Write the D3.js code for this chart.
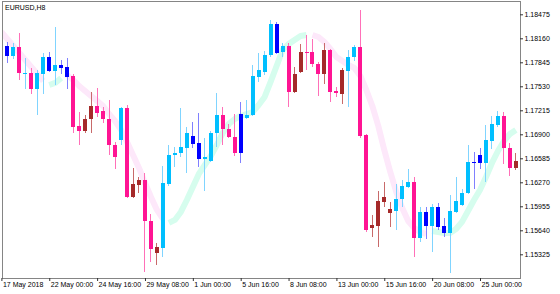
<!DOCTYPE html>
<html>
<head>
<meta charset="utf-8">
<script src="https://cdn.jsdelivr.net/npm/d3@7"></script>
<style>
  body { margin: 0; background: #fff; }
  svg { display: block; font-family: 'Liberation Sans', Arial, sans-serif; }
</style>
</head>
<body>
<div id="chart"></div>
<script>
const symbol = 'EURUSD,H8';

// OHLC of the 87 H8 bars, 17 May 08:00 .. 26 Jun 2018
const opens = [
  1.18190, 1.18059, 1.17928, 1.18046, 1.17691, 1.17705, 1.17495, 1.17691, 1.17915, 1.17731,
  1.17810, 1.17784, 1.17665, 1.17009, 1.16944, 1.17101, 1.17272, 1.17206, 1.17101, 1.16760,
  1.16826, 1.17246, 1.16077, 1.16235, 1.16301, 1.15763, 1.15343, 1.15408, 1.16248, 1.16628,
  1.16655, 1.16721, 1.16878, 1.16787, 1.16576, 1.16550, 1.16918, 1.17153, 1.16970, 1.16865,
  1.16655, 1.17114, 1.17153, 1.17652, 1.17718, 1.17941, 1.18348, 1.17981, 1.18059, 1.17456,
  1.17718, 1.17981, 1.17981, 1.17823, 1.17691, 1.18007, 1.17469, 1.17429, 1.17731, 1.17915,
  1.18046, 1.16891, 1.15671, 1.15697, 1.16012, 1.15868, 1.15894, 1.16051, 1.16209, 1.16275,
  1.15539, 1.15881, 1.15697, 1.15946, 1.15697, 1.15605, 1.15881, 1.15972, 1.16130, 1.16537,
  1.16628, 1.16524, 1.16813, 1.17022, 1.17140, 1.16721, 1.16458
];
const highs = [
  1.18203, 1.18112, 1.18099, 1.18230, 1.17902, 1.17771, 1.17744, 1.17968, 1.17981, 1.18309,
  1.17876, 1.17902, 1.17691, 1.17193, 1.17153, 1.17456, 1.17508, 1.17259, 1.17351, 1.16800,
  1.17259, 1.17285, 1.16458, 1.16340, 1.16393, 1.15854, 1.15474, 1.16484, 1.16760, 1.16734,
  1.17246, 1.16996, 1.17062, 1.17180, 1.16852, 1.16944, 1.17443, 1.17259, 1.17035, 1.17166,
  1.17325, 1.17351, 1.17810, 1.17968, 1.17994, 1.18401, 1.18375, 1.18099, 1.18099, 1.17784,
  1.18085, 1.18203, 1.18151, 1.17850, 1.18099, 1.18020, 1.17521, 1.17771, 1.18007, 1.18072,
  1.18532, 1.16904, 1.15841, 1.16156, 1.16275, 1.16012, 1.16248, 1.16301, 1.16445, 1.16340,
  1.15946, 1.15946, 1.15985, 1.15999, 1.15802, 1.16103, 1.16340, 1.16183, 1.16760, 1.16668,
  1.16721, 1.17022, 1.17140, 1.17206, 1.17193, 1.16787, 1.16655
];
const lows = [
  1.18033, 1.17837, 1.17889, 1.17613, 1.17495, 1.17429, 1.17153, 1.17429, 1.17718, 1.17547,
  1.17691, 1.17495, 1.16918, 1.16760, 1.16918, 1.16918, 1.17127, 1.17049, 1.16628, 1.16445,
  1.16760, 1.16064, 1.16064, 1.16130, 1.15093, 1.15225, 1.15185, 1.15290, 1.16222, 1.16471,
  1.16602, 1.16393, 1.16721, 1.16471, 1.16156, 1.16537, 1.16734, 1.16760, 1.16852, 1.16615,
  1.16524, 1.17101, 1.17140, 1.17587, 1.17678, 1.17915, 1.17954, 1.17915, 1.17259, 1.17443,
  1.17705, 1.17744, 1.17784, 1.17403, 1.17560, 1.17325, 1.17390, 1.17298, 1.17259, 1.17863,
  1.16852, 1.15618, 1.15552, 1.15421, 1.15946, 1.15684, 1.15644, 1.15946, 1.16196, 1.15290,
  1.15487, 1.15526, 1.15356, 1.15644, 1.15552, 1.15080, 1.15868, 1.15959, 1.16116, 1.16183,
  1.16445, 1.16275, 1.16708, 1.16996, 1.16510, 1.16353, 1.16432
];
const closes = [
  1.18046, 1.17928, 1.18046, 1.17705, 1.17705, 1.17495, 1.17705, 1.17915, 1.17731, 1.17810,
  1.17771, 1.17652, 1.16996, 1.16944, 1.17101, 1.17272, 1.17180, 1.17101, 1.16760, 1.16602,
  1.17246, 1.16077, 1.16248, 1.16301, 1.15763, 1.15395, 1.15421, 1.16262, 1.16628, 1.16655,
  1.16734, 1.16918, 1.16773, 1.16576, 1.16602, 1.16918, 1.17153, 1.16970, 1.16865, 1.16655,
  1.17166, 1.17153, 1.17665, 1.17744, 1.17941, 1.18348, 1.17968, 1.18059, 1.17456, 1.17691,
  1.17981, 1.17968, 1.17823, 1.17691, 1.18007, 1.17456, 1.17443, 1.17744, 1.17915, 1.18046,
  1.16878, 1.15644, 1.15710, 1.16025, 1.16077, 1.15920, 1.16051, 1.16222, 1.16275, 1.15539,
  1.15881, 1.15697, 1.15946, 1.15684, 1.15605, 1.15894, 1.16025, 1.16130, 1.16537, 1.16524,
  1.16524, 1.16826, 1.17035, 1.17140, 1.16721, 1.16458, 1.16550
];
// candle colour class: c = up/bull, b = up/bear, p = down/bear, r = down/bull
const kinds = ('pbcpcpccbc' + 'bbpprrpppp' + 'cprrpprccc' + 'ccbbcccppp' + 'bcccccbcpr' +
               'rppprpprcc' + 'pprrrrcccp' + 'cbcbbccccb' + 'bcccppr').split('');

// trend line indicator and its direction (U up, D down)
const band = [
  1.18243, 1.18151, 1.18059, 1.17968, 1.17876, 1.17784, 1.17691, 1.17600, 1.17547, 1.17574,
  1.17639, 1.17678, 1.17613, 1.17534, 1.17469, 1.17403, 1.17338, 1.17272, 1.17166, 1.17075,
  1.16957, 1.16800, 1.16628, 1.16458, 1.16262, 1.16077, 1.15907, 1.15789, 1.15737, 1.15776,
  1.15881, 1.16038, 1.16209, 1.16380, 1.16497, 1.16615, 1.16760, 1.16918, 1.17035, 1.17101,
  1.17140, 1.17166, 1.17193, 1.17285, 1.17390, 1.17587, 1.17797, 1.18007, 1.18085, 1.18138,
  1.18190, 1.18203, 1.18203, 1.18177, 1.18112, 1.18020, 1.17915, 1.17863, 1.17810, 1.17771,
  1.17665, 1.17482, 1.17272, 1.17009, 1.16694, 1.16406, 1.16143, 1.15933, 1.15763, 1.15671,
  1.15618, 1.15592, 1.15631, 1.15618, 1.15605, 1.15605, 1.15657, 1.15750, 1.15894, 1.16038,
  1.16169, 1.16340, 1.16524, 1.16681, 1.16813, 1.16904, 1.16957
];
const bandTrend = ('DDDDDDDD' + 'UUU' + 'DDDDDDDDDDDDDDDDD' + 'UUUUUUUUUUUUUUUUUUUUUUUU' +
                   'DDDDDDDDDDDDDDDDDDDD' + 'UUUUUUUUUUUUUUU').split('');

const priceTicks = [1.18475, 1.18160, 1.17845, 1.17530, 1.17215, 1.16900,
                    1.16585, 1.16270, 1.15955, 1.15640, 1.15325];
const timeTicks = [0, 8, 16, 24, 32, 40, 48, 56, 64, 72, 80];
const timeLabels = ['17 May 2018', '22 May 00:00', '24 May 16:00', '29 May 08:00', '1 Jun 00:00',
                    '5 Jun 16:00', '8 Jun 08:00', '13 Jun 00:00', '15 Jun 16:00', '20 Jun 08:00',
                    '25 Jun 00:00'];

const colors = {
  c: { body: '#00bfff', wick: '#80d4ff' },
  b: { body: '#0000ff', wick: '#8080ff' },
  p: { body: '#ff1493', wick: '#ff70b8' },
  r: { body: '#a52a2a', wick: '#c86a6a' }
};

const width = 560, height = 294;
const plot = { left: 2, top: 2, right: 520, bottom: 278 };

const bars = opens.map((o, i) => ({
  i, o, h: highs[i], l: lows[i], c: closes[i], kind: kinds[i], band: band[i], trend: bandTrend[i]
}));

const x = d3.scaleLinear()
  .domain([timeTicks[0], timeTicks[timeTicks.length - 1]])
  .range([1.4, 480]);

const y = d3.scaleLinear()
  .domain([priceTicks[priceTicks.length - 1], priceTicks[0]])
  .range([254.3, 14.3]);

const svg = d3.select('#chart').append('svg')
  .attr('width', width)
  .attr('height', height);

svg.append('rect').attr('width', width).attr('height', height).attr('fill', '#fff');

svg.append('defs').append('clipPath').attr('id', 'clip')
  .append('rect')
  .attr('x', plot.left + 1).attr('y', plot.top)
  .attr('width', plot.right - plot.left - 1).attr('height', plot.bottom - plot.top);

const area = svg.append('g').attr('clip-path', 'url(#clip)');

// indicator band
['U', 'D'].forEach(t => {
  area.append('path')
    .datum(bars)
    .attr('fill', 'none')
    .attr('stroke', t === 'U' ? '#d6fdee' : '#fde8fa')
    .attr('stroke-width', 6)
    .attr('stroke-linejoin', 'round')
    .attr('d', d3.line()
      .defined(d => d.trend === t)
      .x(d => x(d.i))
      .y(d => y(d.band)));
});

// candles
const candle = area.selectAll('g.candle')
  .data(bars)
  .join('g')
  .attr('class', 'candle')
  .attr('shape-rendering', 'crispEdges');

candle.append('rect')
  .attr('x', d => Math.floor(x(d.i)))
  .attr('y', d => Math.round(y(d.h)))
  .attr('width', 1)
  .attr('height', d => Math.max(1, Math.round(y(d.l)) - Math.round(y(d.h))))
  .attr('fill', d => colors[d.kind].wick);

candle.append('rect')
  .attr('x', d => Math.round(x(d.i) - 2))
  .attr('y', d => Math.round(y(Math.max(d.o, d.c))))
  .attr('width', 4)
  .attr('height', d => Math.max(1, Math.round(y(Math.min(d.o, d.c))) - Math.round(y(Math.max(d.o, d.c)))))
  .attr('fill', d => colors[d.kind].body);

// frame
svg.append('rect')
  .attr('x', plot.left + 0.5).attr('y', plot.top - 0.5)
  .attr('width', plot.right - plot.left).attr('height', plot.bottom - plot.top + 1)
  .attr('fill', 'none')
  .attr('stroke', '#858585');

// price axis
svg.append('g')
  .attr('transform', `translate(${plot.right},0)`)
  .call(d3.axisRight(y).tickValues(priceTicks).tickFormat(d3.format('.5f')).tickSize(3).tickPadding(1.5))
  .attr('font-size', 7)
  .attr('font-family', null)
  .call(g => g.select('.domain').remove())
  .call(g => g.selectAll('line').attr('stroke', '#333'))
  .call(g => g.selectAll('text').attr('fill', '#000'));

// time axis
svg.append('g')
  .attr('transform', `translate(0,${plot.bottom})`)
  .call(d3.axisBottom(x).tickValues(timeTicks).tickFormat((d, i) => timeLabels[i]).tickSize(3))
  .attr('font-size', 7)
  .attr('font-family', null)
  .call(g => g.select('.domain').remove())
  .call(g => g.selectAll('line').attr('stroke', '#333'))
  .call(g => g.selectAll('text')
    .attr('fill', '#000')
    .attr('text-anchor', 'start')
    .attr('dx', 1)
    .attr('y', 4.5));

svg.append('text')
  .attr('x', 5)
  .attr('y', 9.5)
  .attr('font-size', 7)
  .attr('fill', '#000')
  .text(symbol);
</script>
</body>
</html>
